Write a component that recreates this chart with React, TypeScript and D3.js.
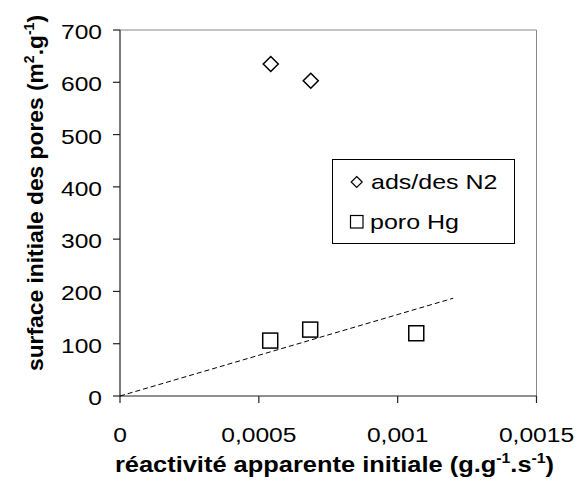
import React, { useEffect, useRef } from 'react';
import * as d3 from 'd3';

const n2X = [0.000543, 0.000687];
const n2Y = [635, 603];
const hgX = [0.000541, 0.000685, 0.001067];
const hgY = [106, 127, 120];
const trendX = [0, 0.0012];
const trendY = [0, 187];
const xTicks = [0, 0.0005, 0.001, 0.0015];
const xTickLabels = ['0', '0,0005', '0,001', '0,0015'];
const yTicks = [0, 100, 200, 300, 400, 500, 600, 700];
const legendLabels = ['ads/des N2', 'poro Hg'];

const FONT = 'Arial, "Liberation Sans", sans-serif';

export default function App() {
  const svgRef = useRef<SVGSVGElement>(null);

  useEffect(() => {
    if (!svgRef.current) return;
    const svg = d3.select(svgRef.current);
    svg.selectAll('*').remove();

    const left = 120, top = 30, right = 536.5, bottom = 396;

    const x = d3.scaleLinear().domain([0, 0.0015]).range([left, right]);
    const y = d3.scaleLinear().domain([0, 700]).range([bottom, top]);

    // text in the source is a bit stretched sideways, hence the sx
    const txt = (g: any, tx: number, ty: number, s: string, anchor: string, size: number,
      sx = 1.2, weight = 'normal', rot = 0) => {
      const t = g.append('text')
        .attr('transform', `translate(${tx},${ty}) scale(${sx},1)${rot ? ` rotate(${rot})` : ''}`)
        .attr('text-anchor', anchor)
        .attr('font-family', FONT)
        .attr('font-size', size)
        .attr('font-weight', weight)
        .attr('fill', '#000');
      if (s) t.text(s);
      return t;
    };

    // frame: grey top and right
    svg.append('line').attr('x1', left).attr('x2', right).attr('y1', top).attr('y2', top)
      .attr('stroke', '#888').attr('stroke-width', 1);
    svg.append('line').attr('x1', right).attr('x2', right).attr('y1', top).attr('y2', bottom)
      .attr('stroke', '#888').attr('stroke-width', 1);

    // axes
    const ax = svg.append('g').attr('stroke', '#222').attr('stroke-width', 1.2);
    ax.append('line').attr('x1', left).attr('x2', right).attr('y1', bottom).attr('y2', bottom);
    ax.append('line').attr('x1', left).attr('x2', left).attr('y1', top).attr('y2', bottom);
    xTicks.forEach(v => {
      ax.append('line').attr('x1', x(v)).attr('x2', x(v)).attr('y1', bottom).attr('y2', bottom + 7);
    });
    yTicks.forEach(v => {
      ax.append('line').attr('x1', left - 7).attr('x2', left).attr('y1', y(v)).attr('y2', y(v));
    });

    xTicks.forEach((v, i) => txt(svg, x(v), 442, xTickLabels[i], 'middle', 20.5));
    yTicks.forEach(v => txt(svg, 102, y(v) + 9, String(v), 'end', 20.5));

    // trend line
    const line = d3.line<number>().x((d, i) => x(trendX[i])).y(d => y(d));
    svg.append('path').datum(trendY).attr('d', line)
      .attr('fill', 'none').attr('stroke', '#000').attr('stroke-width', 1)
      .attr('stroke-dasharray', '5,3');

    const diamond = (g: any, cx: number, cy: number) =>
      g.append('path')
        .attr('d', `M${cx},${cy - 7.5}L${cx + 7.5},${cy}L${cx},${cy + 7.5}L${cx - 7.5},${cy}Z`)
        .attr('fill', '#fff').attr('stroke', '#000').attr('stroke-width', 1.5);
    const square = (g: any, cx: number, cy: number) =>
      g.append('rect').attr('x', cx - 7.5).attr('y', cy - 7.5).attr('width', 15).attr('height', 15)
        .attr('fill', '#fff').attr('stroke', '#000').attr('stroke-width', 1.5);

    n2X.forEach((v, i) => diamond(svg, x(v), y(n2Y[i])));
    hgX.forEach((v, i) => square(svg, x(v), y(hgY[i])));

    // legend
    svg.append('rect').attr('x', 332.5).attr('y', 159.5).attr('width', 182).attr('height', 84)
      .attr('fill', '#fff').attr('stroke', '#000').attr('stroke-width', 1);
    const ld = svg.append('g');
    ld.append('path')
      .attr('d', 'M356.7,176.5L362.2,182L356.7,187.5L351.2,182Z')
      .attr('fill', '#fff').attr('stroke', '#000').attr('stroke-width', 1.2);
    ld.append('rect').attr('x', 350.5).attr('y', 215.5).attr('width', 12.5).attr('height', 12.5)
      .attr('fill', '#fff').attr('stroke', '#000').attr('stroke-width', 1.2);
    txt(svg, 371, 189, legendLabels[0], 'start', 20.5, 1.22);
    txt(svg, 370, 229, legendLabels[1], 'start', 20.5, 1.22);

    // axis titles
    const xt = txt(svg, 334.5, 472, '', 'middle', 22.5, 1.13, 'bold');
    xt.append('tspan').text('réactivité apparente initiale (g.g');
    xt.append('tspan').attr('font-size', 14).attr('dy', -9).text('-1');
    xt.append('tspan').attr('dy', 9).text('.s');
    xt.append('tspan').attr('font-size', 14).attr('dy', -9).text('-1');
    xt.append('tspan').attr('dy', 9).text(')');

    const yt = txt(svg, 43, 193, '', 'middle', 22.8, 1, 'bold', -90);
    yt.append('tspan').text('surface initiale des pores (m');
    yt.append('tspan').attr('font-size', 14).attr('dy', -9).text('2');
    yt.append('tspan').attr('dy', 9).text('.g');
    yt.append('tspan').attr('font-size', 14).attr('dy', -9).text('-1');
    yt.append('tspan').attr('dy', 9).text(')');
  }, []);

  return (
    <svg
      ref={svgRef}
      width={576}
      height={496}
      style={{ position: 'absolute', left: 0, top: 0, background: '#fff' }}
    />
  );
}
